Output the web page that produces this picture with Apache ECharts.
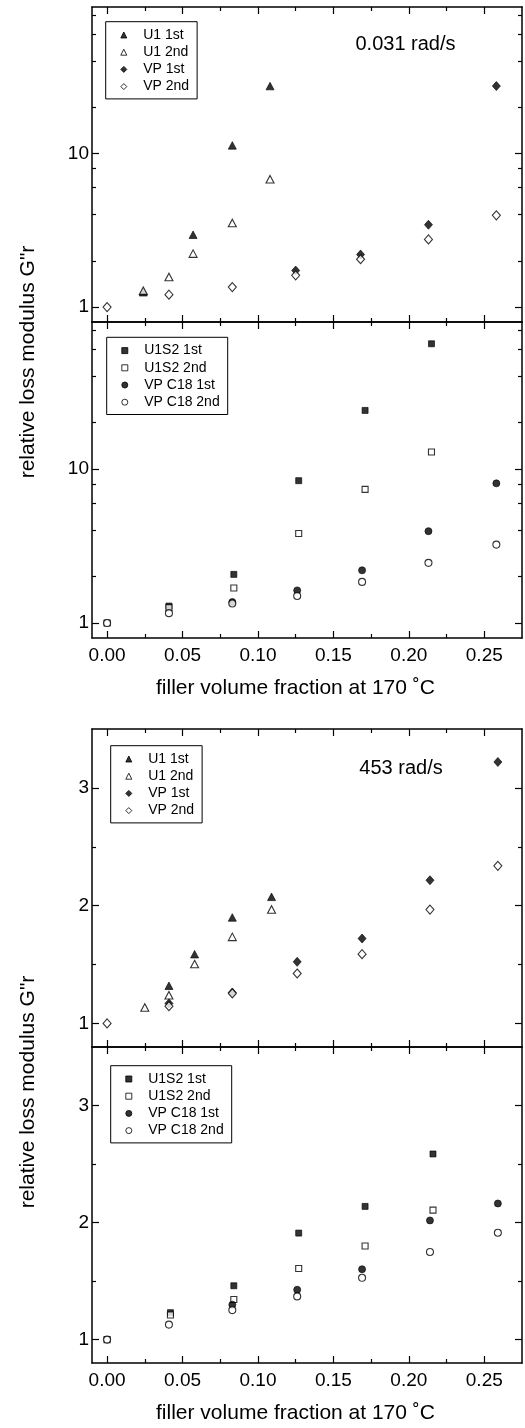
<!DOCTYPE html>
<html><head><meta charset="utf-8">
<script src="https://cdn.jsdelivr.net/npm/echarts@6/dist/echarts.min.js"></script>
<style>html,body{margin:0;padding:0;background:#fff}#c{width:525px;height:1428px}</style>
</head><body><div id="c"></div>
<script>
// ---------- tick values ----------
const xMajorTicks = [0, 0.05, 0.10, 0.15, 0.20, 0.25];
const xMinorTicks = [0.025, 0.075, 0.125, 0.175, 0.225];
const logMajorTicks = [1, 10];
const logMinorTicks = [2, 4, 6, 8, 20, 40, 60, 80];
const linMajorTicks = [1, 2, 3];
const linMinorTicks = [1.5, 2.5];

// ---------- texts ----------
const xTitle = 'filler volume fraction at 170 \u02DAC';
const yTitle = 'relative loss modulus G"r';
const freqLow = '0.031 rad/s';
const freqHigh = '453 rad/s';

// ---------- data: 0.031 rad/s ----------
const p1_U1_1st_x = [0.024, 0.057, 0.083, 0.108];
const p1_U1_1st_y = [1.25, 2.96, 11.3, 27.5];
const p1_U1_2nd_x = [0.024, 0.041, 0.057, 0.083, 0.108];
const p1_U1_2nd_y = [1.28, 1.57, 2.23, 3.53, 6.80];
const p1_VP_1st_x = [0.125, 0.168, 0.213, 0.258];
const p1_VP_1st_y = [1.73, 2.20, 3.44, 27.5];
const p1_VP_2nd_x = [0, 0.041, 0.083, 0.125, 0.168, 0.213, 0.258];
const p1_VP_2nd_y = [1.00, 1.205, 1.35, 1.61, 2.05, 2.76, 3.96];

const p2_U1S2_1st_x = [0.041, 0.084, 0.127, 0.171, 0.215];
const p2_U1S2_1st_y = [1.29, 2.07, 8.40, 24.0, 65.0];
const p2_U1S2_2nd_x = [0, 0.041, 0.084, 0.127, 0.171, 0.215];
const p2_U1S2_2nd_y = [1.00, 1.26, 1.69, 3.81, 7.38, 12.9];
const p2_C18_1st_x = [0.083, 0.126, 0.169, 0.213, 0.258];
const p2_C18_1st_y = [1.37, 1.63, 2.20, 3.95, 8.07];
const p2_C18_2nd_x = [0, 0.041, 0.083, 0.126, 0.169, 0.213, 0.258];
const p2_C18_2nd_y = [1.00, 1.16, 1.34, 1.50, 1.85, 2.46, 3.23];

// ---------- data: 453 rad/s ----------
const p3_U1_1st_x = [0.041, 0.058, 0.083, 0.109];
const p3_U1_1st_y = [1.32, 1.588, 1.90, 2.075];
const p3_U1_2nd_x = [0.025, 0.041, 0.058, 0.083, 0.109];
const p3_U1_2nd_y = [1.136, 1.24, 1.504, 1.735, 1.967];
const p3_VP_1st_x = [0.041, 0.083, 0.126, 0.169, 0.214, 0.259];
const p3_VP_1st_y = [1.17, 1.263, 1.523, 1.721, 2.216, 3.22];
const p3_VP_2nd_x = [0, 0.041, 0.083, 0.126, 0.169, 0.214, 0.259];
const p3_VP_2nd_y = [1.00, 1.147, 1.255, 1.424, 1.588, 1.967, 2.338];

const p4_U1S2_1st_x = [0.042, 0.084, 0.127, 0.171, 0.216];
const p4_U1S2_1st_y = [1.23, 1.46, 1.91, 2.138, 2.586];
const p4_U1S2_2nd_x = [0, 0.042, 0.084, 0.127, 0.171, 0.216];
const p4_U1S2_2nd_y = [1.00, 1.21, 1.343, 1.607, 1.80, 2.106];
const p4_C18_1st_x = [0.083, 0.126, 0.169, 0.214, 0.259];
const p4_C18_1st_y = [1.298, 1.426, 1.601, 2.018, 2.163];
const p4_C18_2nd_x = [0, 0.041, 0.083, 0.126, 0.169, 0.214, 0.259];
const p4_C18_2nd_y = [1.00, 1.128, 1.252, 1.369, 1.528, 1.749, 1.913];

// ---------- styling / layout ----------
const FONT = '"Liberation Sans", Arial, Helvetica, sans-serif';
const X_MIN = -0.01, X_MAX = 0.275;
const grids = [
  {left: 92, top: 7,    width: 430, height: 315},
  {left: 92, top: 322,  width: 430, height: 316},
  {left: 92, top: 729,  width: 430, height: 318},
  {left: 92, top: 1047, width: 430, height: 316}
];
const yCfg = [
  {type: 'log', min: 0.8, max: 90, major: logMajorTicks, minor: logMinorTicks},
  {type: 'log', min: 0.8, max: 90, major: logMajorTicks, minor: logMinorTicks},
  {type: 'value', min: 0.8, max: 3.5, major: linMajorTicks, minor: linMinorTicks},
  {type: 'value', min: 0.8, max: 3.5, major: linMajorTicks, minor: linMinorTicks}
];
const showXLabels = [false, true, false, true];

const lineStyle = {color: '#000', width: 1.5};
const tickStyle = {color: '#000', width: 1.2};
const MAJ = 7, MIN = 4;

const xAxis = [], yAxis = [];
grids.forEach((g, gi) => {
  const cx = {type: 'value', gridIndex: gi, min: X_MIN, max: X_MAX, splitLine: {show: false}, minorTick: {show: false}};
  const lab = showXLabels[gi];
  xAxis.push(Object.assign({}, cx, {
    position: 'bottom',
    axisLine: {show: true, onZero: false, lineStyle},
    axisTick: {show: true, inside: true, length: MAJ, lineStyle: tickStyle, customValues: xMajorTicks},
    axisLabel: {show: lab, customValues: xMajorTicks, formatter: v => v.toFixed(2), margin: 8,
      color: '#000', fontSize: 19, fontFamily: FONT},
    name: lab ? xTitle : '', nameLocation: 'middle', nameGap: 40,
    nameTextStyle: {color: '#000', fontSize: 21, fontFamily: FONT, padding: [0, 23, 0, 0]}
  }));
  xAxis.push(Object.assign({}, cx, {
    position: 'bottom', axisLine: {show: false, onZero: false},
    axisTick: {show: true, inside: true, length: MIN, lineStyle: tickStyle, customValues: xMinorTicks},
    axisLabel: {show: false}
  }));
  xAxis.push(Object.assign({}, cx, {
    position: 'top', axisLine: {show: true, onZero: false, lineStyle},
    axisTick: {show: true, inside: true, length: MAJ, lineStyle: tickStyle, customValues: xMajorTicks},
    axisLabel: {show: false}
  }));
  xAxis.push(Object.assign({}, cx, {
    position: 'top', axisLine: {show: false, onZero: false},
    axisTick: {show: true, inside: true, length: MIN, lineStyle: tickStyle, customValues: xMinorTicks},
    axisLabel: {show: false}
  }));

  const yc = yCfg[gi];
  const cy = {type: yc.type, gridIndex: gi, min: yc.min, max: yc.max, splitLine: {show: false}, minorTick: {show: false}};
  if (yc.type === 'log') cy.logBase = 10;
  yAxis.push(Object.assign({}, cy, {
    position: 'left', axisLine: {show: true, onZero: false, lineStyle},
    axisTick: {show: true, inside: true, length: MAJ, lineStyle: tickStyle, customValues: yc.major},
    axisLabel: {show: true, customValues: yc.major, formatter: v => String(+(+v).toPrecision(4)), margin: 3,
      color: '#000', fontSize: 19, fontFamily: FONT}
  }));
  yAxis.push(Object.assign({}, cy, {
    position: 'left', axisLine: {show: false, onZero: false},
    axisTick: {show: true, inside: true, length: MIN, lineStyle: tickStyle, customValues: yc.minor},
    axisLabel: {show: false}
  }));
  yAxis.push(Object.assign({}, cy, {
    position: 'right', axisLine: {show: true, onZero: false, lineStyle},
    axisTick: {show: true, inside: true, length: MAJ, lineStyle: tickStyle, customValues: yc.major},
    axisLabel: {show: false}
  }));
  yAxis.push(Object.assign({}, cy, {
    position: 'right', axisLine: {show: false, onZero: false},
    axisTick: {show: true, inside: true, length: MIN, lineStyle: tickStyle, customValues: yc.minor},
    axisLabel: {show: false}
  }));
});

const filled = {color: '#000', borderColor: '#000', borderWidth: 0.8};
const open = {color: '#fff', borderColor: '#000', borderWidth: 1.1};
const SYM = {
  tri: {symbol: 'triangle', symbolSize: [8, 7.5]},
  dia: {symbol: 'diamond', symbolSize: [8, 9]},
  sq: {symbol: 'rect', symbolSize: [6, 6]},
  cir: {symbol: 'circle', symbolSize: 7}
};
function zip(xs, ys) { return xs.map((x, i) => [x, ys[i]]); }
function sc(name, gi, xs, ys, sym, style) {
  return Object.assign({
    type: 'scatter', name, xAxisIndex: gi * 4, yAxisIndex: gi * 4,
    data: zip(xs, ys), itemStyle: style, emphasis: {disabled: true}, silent: true
  }, SYM[sym]);
}
const series = [
  sc('U1 1st', 0, p1_U1_1st_x, p1_U1_1st_y, 'tri', filled),
  sc('U1 2nd', 0, p1_U1_2nd_x, p1_U1_2nd_y, 'tri', open),
  sc('VP 1st', 0, p1_VP_1st_x, p1_VP_1st_y, 'dia', filled),
  sc('VP 2nd', 0, p1_VP_2nd_x, p1_VP_2nd_y, 'dia', open),
  sc('U1S2 1st', 1, p2_U1S2_1st_x, p2_U1S2_1st_y, 'sq', filled),
  sc('U1S2 2nd', 1, p2_U1S2_2nd_x, p2_U1S2_2nd_y, 'sq', open),
  sc('VP C18 1st', 1, p2_C18_1st_x, p2_C18_1st_y, 'cir', filled),
  sc('VP C18 2nd', 1, p2_C18_2nd_x, p2_C18_2nd_y, 'cir', open),
  sc('U1 1st', 2, p3_U1_1st_x, p3_U1_1st_y, 'tri', filled),
  sc('U1 2nd', 2, p3_U1_2nd_x, p3_U1_2nd_y, 'tri', open),
  sc('VP 1st', 2, p3_VP_1st_x, p3_VP_1st_y, 'dia', filled),
  sc('VP 2nd', 2, p3_VP_2nd_x, p3_VP_2nd_y, 'dia', open),
  sc('U1S2 1st', 3, p4_U1S2_1st_x, p4_U1S2_1st_y, 'sq', filled),
  sc('U1S2 2nd', 3, p4_U1S2_2nd_x, p4_U1S2_2nd_y, 'sq', open),
  sc('VP C18 1st', 3, p4_C18_1st_x, p4_C18_1st_y, 'cir', filled),
  sc('VP C18 2nd', 3, p4_C18_2nd_x, p4_C18_2nd_y, 'cir', open)
];

function legend(names, icons, left, top) {
  return {
    data: names.map((n, i) => ({name: n, icon: icons[i]})),
    left, top, orient: 'vertical', selectedMode: false,
    padding: [6.3, 8, 5.3, 14.6], itemGap: 3.2, itemWidth: 6, itemHeight: 6,
    borderColor: '#000', borderWidth: 1, backgroundColor: '#fff',
    itemStyle: {borderWidth: 1, borderColor: '#000'},
    textStyle: {fontSize: 14, fontFamily: FONT, color: '#000', padding: [0, 0, 0, 11.4]}
  };
}
const legA = ['U1 1st', 'U1 2nd', 'VP 1st', 'VP 2nd'];
const legAIcons = ['triangle', 'triangle', 'diamond', 'diamond'];
const legB = ['U1S2 1st', 'U1S2 2nd', 'VP C18 1st', 'VP C18 2nd'];
const legBIcons = ['rect', 'rect', 'circle', 'circle'];

const txt = (text, x, y, size, rot) => ({
  type: 'text', x, y, rotation: rot || 0, silent: true,
  style: {text, fill: '#000', font: size + 'px ' + FONT, textAlign: 'center', textVerticalAlign: 'middle'}
});

const chart = echarts.init(document.getElementById('c'), null, {renderer: 'canvas'});
chart.setOption({
  animation: false,
  backgroundColor: '#fff',
  grid: grids.map(g => Object.assign({containLabel: false, outerBoundsMode: 'none'}, g)),
  xAxis, yAxis, series,
  legend: [
    legend(legA, legAIcons, 105.7, 21.7),
    legend(legB, legBIcons, 106.7, 337.3),
    legend(legA, legAIcons, 110.7, 745.7),
    legend(legB, legBIcons, 110.7, 1065.7)
  ],
  graphic: [
    txt(freqLow, 405.5, 44, 20),
    txt(freqHigh, 401, 768, 20),
    txt(yTitle, 28, 362, 21, Math.PI / 2),
    txt(yTitle, 28, 1092, 21, Math.PI / 2)
  ]
});
</script></body></html>
